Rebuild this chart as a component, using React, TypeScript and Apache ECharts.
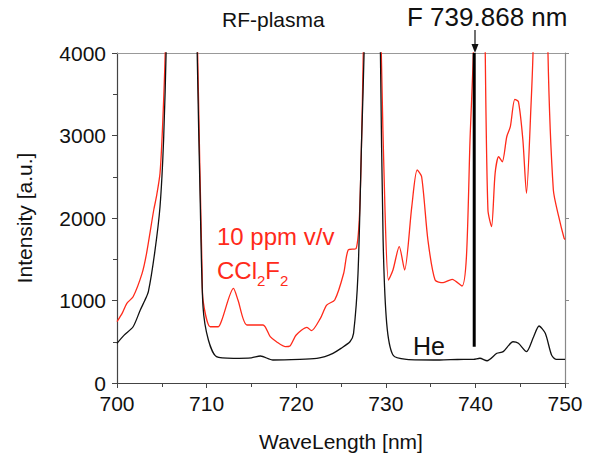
import React, { useEffect, useRef } from "react";
import * as echarts from "echarts";

// He (background) spectrum: [wavelength nm, intensity a.u.]
const heSpectrum: [number, number][] = [
  [700, 481], [700.8, 580], [701.8, 682], [702.6, 885], [703.1, 1000], [703.5, 1107],
  [704.2, 1575], [704.8, 2137], [705.2, 2945], [705.5, 4100], [705.7, 6000], [707.2, 20000],
  [708.7, 6000], [708.95, 4000], [709.3, 2137], [709.6, 925], [710.2, 521], [711.1, 319],
  [713, 299], [715, 305], [716, 327], [717.4, 279], [720.4, 287], [722.3, 299], [723.2, 320],
  [724.1, 360], [725, 420], [726, 500], [726.4, 602], [726.9, 1330], [727.3, 2945],
  [727.6, 4100], [727.8, 6000], [728.5, 20000], [729.2, 6000], [729.4, 4000], [729.7, 1733],
  [730.1, 723], [730.8, 339], [732.3, 287], [736, 279], [738, 285], [739.8, 287], [740.5, 300],
  [741.3, 270], [742.4, 360], [743.1, 380], [744.2, 500], [744.8, 481], [745.7, 380],
  [746.5, 561], [747.1, 691], [747.8, 602], [748.5, 339], [749, 287], [750, 287],
];

// 10 ppm v/v CCl2F2 spectrum
const cclSpectrum: [number, number][] = [
  [700, 743], [700.6, 850], [701.1, 966], [701.8, 1046], [702.8, 1329], [703.3, 1572],
  [704.1, 2097], [704.4, 2258], [704.8, 2541], [705.1, 3147], [705.4, 4100], [705.6, 6000],
  [707.2, 20000], [708.8, 6000], [709.0, 4000], [709.5, 1330], [709.6, 1006], [710.4, 682],
  [711.3, 682], [711.7, 764], [713, 1147], [713.5, 1006], [714.5, 703], [716.3, 703],
  [717.1, 561], [717.8, 500], [718.8, 440], [719.3, 448], [720, 582], [721.2, 675],
  [721.7, 634], [722.7, 784], [723.4, 945], [724.3, 1006], [725.3, 1330], [725.8, 1612],
  [726.7, 1632], [727.1, 2137], [727.5, 4100], [727.7, 6000], [728.5, 20000], [729.3, 6000],
  [729.5, 4000], [729.9, 2137], [730.3, 1248], [730.8, 1370], [731.5, 1652], [732.1, 1370],
  [732.9, 2137], [733.5, 2582], [734, 2500], [734.7, 1733], [735.5, 1248], [736.4, 1216],
  [737.4, 1257], [738.5, 1176], [739, 1531], [739.4, 2945], [739.8, 4100], [740, 6000],
  [740.5, 20000], [741, 6000], [741.1, 4000], [741.4, 2097], [741.8, 1895], [742.2, 2541],
  [742.6, 2743], [743, 2682], [743.5, 2985], [743.9, 3107], [744.4, 3438], [744.8, 3410],
  [745.3, 2945], [745.7, 2299], [746.2, 3350], [746.45, 4100], [746.6, 6000], [747.3, 20000],
  [748, 6000], [748.1, 4000], [748.7, 2339], [749.3, 2016], [749.9, 1754], [750, 1740],
];

// Fluorine line marker
const fLine: [number, number][] = [[739.868, 440], [739.868, 4000]];

const xTicks = [700, 710, 720, 730, 740, 750];
const yTicks = [0, 1000, 2000, 3000, 4000];

const FONT = "'Liberation Sans', Arial, sans-serif";

export default function App() {
  const ref = useRef<HTMLDivElement>(null);
  useEffect(() => {
    if (!ref.current) return;
    const chart = echarts.init(ref.current, undefined, { renderer: "svg" });
    const axisTxt = { color: "#111", fontSize: 21, fontFamily: FONT };
    chart.setOption({
      animation: false,
      backgroundColor: "#fff",
      grid: { left: 117, right: 28, top: 53, bottom: 76 },
      xAxis: [
        {
          type: "value",
          min: xTicks[0],
          max: xTicks[xTicks.length - 1],
          interval: 10,
          name: "WaveLength [nm]",
          nameLocation: "middle",
          nameGap: 48,
          nameTextStyle: { ...axisTxt, fontSize: 21 },
          axisLine: { lineStyle: { color: "#444", width: 1.2 } },
          axisTick: { length: 5, lineStyle: { color: "#444" } },
          minorTick: { show: true, splitNumber: 2, length: 4, lineStyle: { color: "#444" } },
          axisLabel: { ...axisTxt, margin: 10, formatter: (v: number) => String(v) },
          splitLine: { show: false },
        },
        {
          type: "value",
          position: "top",
          min: 700,
          max: 750,
          axisLine: { show: true, onZero: false, lineStyle: { color: "#999", width: 1.2 } },
          axisTick: { show: false },
          axisLabel: { show: false },
          splitLine: { show: false },
        },
      ],
      yAxis: [
        {
          type: "value",
          min: yTicks[0],
          max: yTicks[yTicks.length - 1],
          interval: 1000,
          name: "Intensity [a.u.]",
          nameLocation: "middle",
          nameGap: 82,
          nameTextStyle: { ...axisTxt, fontSize: 21 },
          axisLine: { show: true, lineStyle: { color: "#444", width: 1.2 } },
          axisTick: { show: true, length: 5, lineStyle: { color: "#444" } },
          minorTick: { show: true, splitNumber: 2, length: 4, lineStyle: { color: "#444" } },
          axisLabel: { ...axisTxt, margin: 11, formatter: (v: number) => String(v) },
          splitLine: { show: false },
        },
        {
          type: "value",
          position: "right",
          min: 0,
          max: 4000,
          interval: 1000,
          axisLine: { show: true, onZero: false, lineStyle: { color: "#888", width: 1.2 } },
          axisTick: { show: true, length: 4, lineStyle: { color: "#888" } },
          axisLabel: { show: false },
          splitLine: { show: false },
        },
      ],
      series: [
        {
          type: "line",
          data: cclSpectrum,
          showSymbol: false,
          clip: true,
          smooth: 0.25,
          lineStyle: { color: "#ff2a1a", width: 1.3 },
          z: 2,
        },
        {
          type: "line",
          data: heSpectrum,
          showSymbol: false,
          clip: true,
          smooth: 0.25,
          lineStyle: { color: "#111", width: 1.3 },
          z: 3,
        },
        {
          type: "line",
          data: fLine,
          showSymbol: false,
          clip: true,
          lineStyle: { color: "#000", width: 3 },
          z: 4,
        },
      ],
      graphic: [
        {
          type: "text",
          left: 222,
          top: 9,
          style: { text: "RF-plasma", fontSize: 21, fontFamily: FONT, fill: "#111" },
        },
        {
          type: "text",
          left: 407,
          top: 4,
          style: { text: "F 739.868 nm", fontSize: 26, fontFamily: FONT, fill: "#111" },
        },
        {
          type: "line",
          shape: { x1: 475, y1: 30, x2: 475, y2: 46 },
          style: { stroke: "#111", lineWidth: 1.2 },
        },
        {
          type: "polygon",
          shape: { points: [[471.5, 44], [478.5, 44], [475, 53]] },
          style: { fill: "#111" },
        },
        {
          type: "text",
          left: 217,
          top: 224,
          style: { text: "10 ppm v/v", fontSize: 24, fontFamily: FONT, fill: "#ff2a1a" },
        },
        {
          type: "text",
          left: 217,
          top: 258,
          style: {
            text: "CCl{s|2}F{s|2}",
            fontSize: 24,
            fontFamily: FONT,
            fill: "#ff2a1a",
            rich: {
              s: { fontSize: 15, fontFamily: FONT, fill: "#ff2a1a", padding: [20, 0, 0, 0] },
            },
          },
        },
        {
          type: "text",
          left: 413,
          top: 333,
          style: { text: "He", fontSize: 25, fontFamily: FONT, fill: "#111" },
        },
      ],
    });
    return () => chart.dispose();
  }, []);
  return (
    <div
      ref={ref}
      style={{ position: "fixed", left: 0, top: 0, width: 593, height: 459 }}
    />
  );
}
